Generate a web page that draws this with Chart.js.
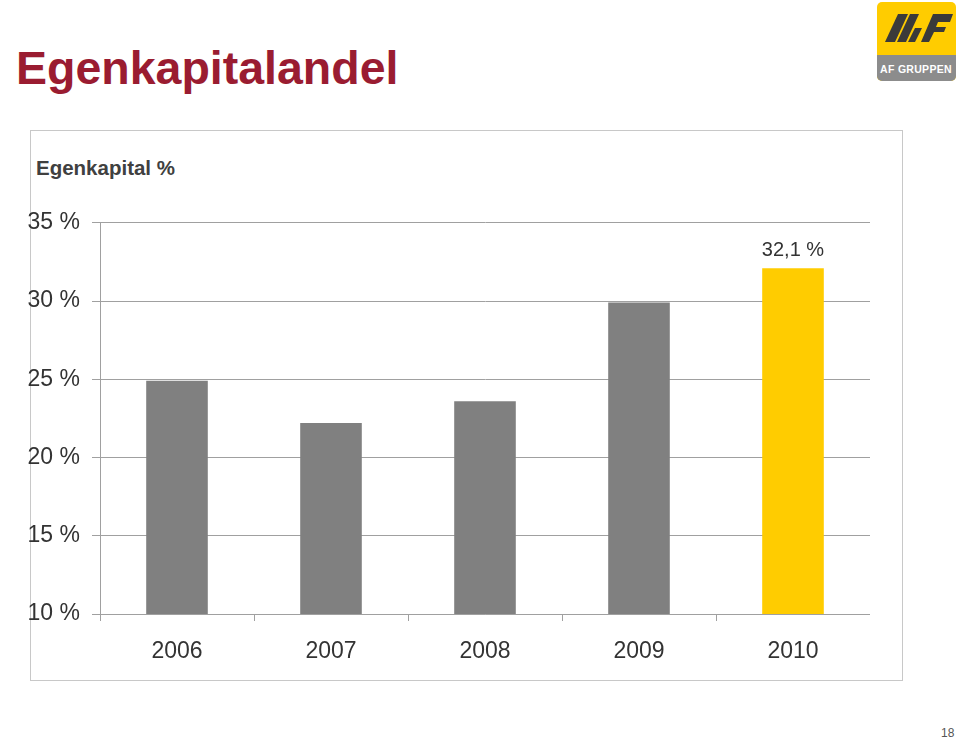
<!DOCTYPE html>
<html>
<head>
<meta charset="utf-8">
<script src="https://cdn.jsdelivr.net/npm/chart.js@4/dist/chart.umd.min.js"></script>
<style>
  body { margin: 0; background: #fff; width: 960px; height: 741px; position: relative; overflow: hidden; font-family: "Liberation Sans", Arial, sans-serif; }
  #title { position: absolute; left: 16px; top: 41px; font-size: 46.5px; font-weight: bold; color: #9a1c31; }
  #logo { position: absolute; left: 877px; top: 2px; }
  #panel { position: absolute; left: 30px; top: 130px; width: 871px; height: 549px; border: 1px solid #c8c8c8; }
  #subtitle { position: absolute; left: 36px; top: 156px; font-size: 20.5px; font-weight: bold; color: #404040; }
  #chartBox { position: absolute; left: 20px; top: 197px; width: 850px; height: 473px; }
  #page { position: absolute; left: 941px; top: 726px; font-size: 12px; color: #555; }
</style>
</head>
<body>
<div id="title">Egenkapitalandel</div>
<svg id="logo" width="80" height="80" viewBox="0 0 80 80">
  <rect x="0" y="0" width="79" height="79" rx="5" fill="#ffcc00"/>
  <path d="M0 53 H79 V74 a5 5 0 0 1 -5 5 H5 a5 5 0 0 1 -5 -5 Z" fill="#8c8c8c"/>
  <polygon points="8,40 18,40 31,12 21,12" fill="#3a3a3a"/>
  <polygon points="20,40 29,40 42,12 33,12" fill="#3a3a3a"/>
  <polygon points="31,40 38,40 45,26 38,26" fill="#3a3a3a"/>
  <polygon points="44,40 52,40 57,30 67,30 69,25 59,25 61,20 73,20 76,12 56,12" fill="#3a3a3a"/>
  <text x="39" y="71" text-anchor="middle" font-family="Liberation Sans, Arial" font-weight="bold" font-size="10.5" fill="#fff" letter-spacing="0.3">AF GRUPPEN</text>
</svg>
<div id="panel"></div>
<div id="subtitle">Egenkapital %</div>
<div id="chartBox"><canvas id="chart"></canvas></div>
<div id="page">18</div>

<script>
// chart data
const years = ['2006', '2007', '2008', '2009', '2010'];
const equityShare = [24.9, 22.2, 23.6, 29.9, 32.1];
const yTicks = [10, 15, 20, 25, 30, 35];
const highlightIndex = 4;

const barColors = equityShare.map(function(v, i) {
    return i === highlightIndex ? '#ffcc00' : '#808080';
});

// value label above the highlighted bar
const valueLabel = {
    id: 'valueLabel',
    afterDatasetsDraw: function(chart) {
        const bar = chart.getDatasetMeta(0).data[highlightIndex];
        const ctx = chart.ctx;
        ctx.save();
        ctx.font = '20px "Liberation Sans", Arial, sans-serif';
        ctx.fillStyle = '#333333';
        ctx.textAlign = 'center';
        ctx.textBaseline = 'bottom';
        ctx.fillText(equityShare[highlightIndex].toFixed(1).replace('.', ',') + ' %', bar.x, bar.y - 8);
        ctx.restore();
    }
};

const ctx = document.getElementById('chart').getContext('2d');
new Chart(ctx, {
    type: 'bar',
    data: {
        labels: years,
        datasets: [{
            data: equityShare,
            backgroundColor: barColors,
            borderWidth: 0,
            barPercentage: 0.8,
            categoryPercentage: 0.5
        }]
    },
    options: {
        responsive: true,
        maintainAspectRatio: false,
        animation: false,
        layout: { padding: { top: 19, left: 0, right: 0, bottom: 0 } },
        plugins: {
            legend: { display: false },
            tooltip: { enabled: false }
        },
        scales: {
            x: {
                grid: { display: true, drawOnChartArea: false, drawTicks: true, tickLength: 7, color: '#a0a0a0', offset: true },
                border: { display: true, color: '#a0a0a0', width: 1 },
                ticks: { color: '#333333', padding: 17, font: { size: 23, family: '"Liberation Sans", Arial, sans-serif' } },
                afterFit: function(scale) { scale.height = 56; }
            },
            y: {
                min: yTicks[0],
                max: yTicks[yTicks.length - 1],
                afterBuildTicks: function(scale) {
                    scale.ticks = yTicks.map(function(v) { return { value: v }; });
                },
                grid: { color: '#a0a0a0', tickLength: 8, lineWidth: 1 },
                border: { display: true, color: '#a0a0a0', width: 1 },
                ticks: {
                    color: '#333333',
                    padding: 12,
                    font: { size: 23, family: '"Liberation Sans", Arial, sans-serif' },
                    callback: function(value) { return value + ' %'; }
                },
                afterFit: function(scale) { scale.width = 80; }
            }
        }
    },
    plugins: [valueLabel]
});
</script>
</body>
</html>
